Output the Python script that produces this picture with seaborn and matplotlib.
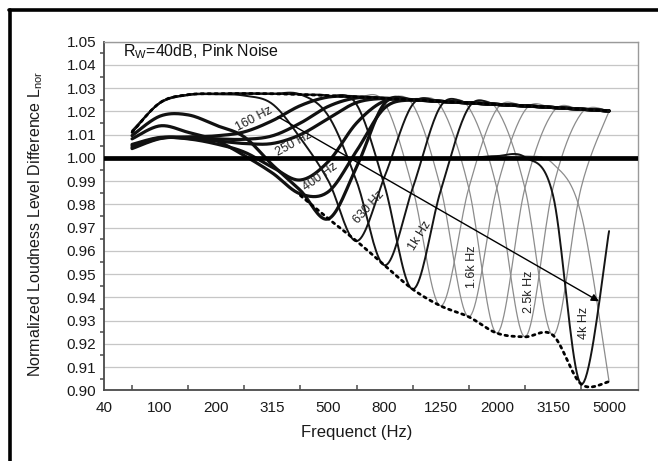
import numpy as np
import matplotlib
matplotlib.use("Agg")
import matplotlib.pyplot as plt
from matplotlib.lines import Line2D
import seaborn as sns

sns.set_theme(style="white")
plt.rcParams['font.family'] = ['Liberation Sans', 'DejaVu Sans']
plt.rcParams['mathtext.fontset'] = 'custom'
plt.rcParams['mathtext.rm'] = 'Liberation Sans'

# ---- axis categories (1/3-octave band positions) ----
tick_labels = ['40', '100', '200', '315', '500', '800', '1250', '2000', '3150', '5000']
band_pos = list(range(1, 19))

# ---- normalized loudness level difference per notch band ----
upper_env = [1.0110, 1.0238, 1.0272, 1.0276, 1.0277, 1.0276, 1.0273, 1.0268, 1.0263,
             1.0256, 1.0250, 1.0243, 1.0237, 1.0230, 1.0224, 1.0217, 1.0210, 1.0202]
lower_env_pos = list(range(7, 19))
lower_env = [0.9838, 0.9738, 0.9642, 0.9538, 0.9435, 0.9363, 0.9316, 0.9246,
             0.9230, 0.9237, 0.9027, 0.9037]

n160 = [1.0040, 1.0083, 1.0090, 1.0095, 1.0112, 1.0160, 1.0225, 1.0262, 1.0263,
        1.0256, 1.0250, 1.0243, 1.0237, 1.0230, 1.0224, 1.0217, 1.0210, 1.0202]
n200 = [1.0045, 1.0085, 1.0087, 1.0082, 1.0080, 1.0095, 1.0150, 1.0222, 1.0258,
        1.0256, 1.0250, 1.0243, 1.0237, 1.0230, 1.0224, 1.0217, 1.0210, 1.0202]
n250 = [1.0052, 1.0086, 1.0084, 1.0073, 1.0062, 1.0062, 1.0100, 1.0170, 1.0238,
        1.0256, 1.0250, 1.0243, 1.0237, 1.0230, 1.0224, 1.0217, 1.0210, 1.0202]
n315 = [1.0058, 1.0088, 1.0082, 1.0060, 1.0025, 0.9960, 0.9905, 0.9985, 1.0150,
        1.0245, 1.0250, 1.0243, 1.0237, 1.0230, 1.0224, 1.0217, 1.0210, 1.0202]
n400 = [1.0082, 1.0138, 1.0110, 1.0075, 1.0010, 0.9935, 0.9845, 0.9855, 1.0030,
        1.0215, 1.0250, 1.0243, 1.0237, 1.0230, 1.0224, 1.0217, 1.0210, 1.0202]
n500 = [1.0096, 1.0180, 1.0185, 1.0140, 1.0090, 0.9970, 0.9860, 0.9738, 0.9960,
        1.0235, 1.0250, 1.0243, 1.0237, 1.0230, 1.0224, 1.0217, 1.0210, 1.0202]
n630 = [1.0117, 1.0236, 1.0270, 1.0274, 1.0268, 1.0232, 1.0085, 0.9900, 0.9642,
        0.9920, 1.0230, 1.0243, 1.0237, 1.0230, 1.0224, 1.0217, 1.0210, 1.0202]
n800 = [1.0110, 1.0238, 1.0272, 1.0276, 1.0277, 1.0276, 1.0273, 1.0180, 0.9900,
        0.9538, 0.9870, 1.0223, 1.0237, 1.0230, 1.0224, 1.0217, 1.0210, 1.0202]
n1000 = [1.0110, 1.0238, 1.0272, 1.0276, 1.0277, 1.0276, 1.0273, 1.0268, 1.0230,
         0.9880, 0.9435, 0.9860, 1.0217, 1.0230, 1.0224, 1.0217, 1.0210, 1.0202]
n1250 = [1.0110, 1.0238, 1.0272, 1.0276, 1.0277, 1.0276, 1.0273, 1.0268, 1.0263,
         1.0236, 0.9870, 0.9363, 0.9870, 1.0210, 1.0224, 1.0217, 1.0210, 1.0202]
n1600 = [1.0110, 1.0238, 1.0272, 1.0276, 1.0277, 1.0276, 1.0273, 1.0268, 1.0263,
         1.0256, 1.0230, 0.9870, 0.9316, 0.9870, 1.0204, 1.0217, 1.0210, 1.0202]
n2000 = [1.0110, 1.0238, 1.0272, 1.0276, 1.0277, 1.0276, 1.0273, 1.0268, 1.0263,
         1.0256, 1.0250, 1.0223, 0.9870, 0.9246, 0.9870, 1.0197, 1.0210, 1.0202]
n2500 = [1.0110, 1.0238, 1.0272, 1.0276, 1.0277, 1.0276, 1.0273, 1.0268, 1.0263,
         1.0256, 1.0250, 1.0243, 1.0217, 0.9870, 0.9230, 0.9870, 1.0190, 1.0202]
n3150 = [1.0110, 1.0238, 1.0272, 1.0276, 1.0277, 1.0276, 1.0273, 1.0268, 1.0263,
         1.0256, 1.0250, 1.0243, 1.0237, 1.0210, 0.9870, 0.9237, 0.9870, 1.0202]
n4000 = [1.0000, 1.0000, 1.0000, 1.0000, 1.0000, 1.0000, 1.0000, 1.0000, 1.0000,
         1.0000, 1.0000, 1.0000, 1.0000, 1.0008, 1.0003, 0.9840, 0.9027, 0.9685]
n5000 = [1.0000, 1.0000, 1.0000, 1.0000, 1.0000, 1.0000, 1.0000, 1.0000, 1.0000,
         1.0000, 1.0000, 1.0000, 1.0000, 1.0000, 1.0008, 0.9975, 0.9760, 0.9037]

# ---- annotation texts ----
band_labels = ['160 Hz', '250 Hz', '400 Hz', '630 Hz', '1k Hz', '1.6k Hz', '2.5k Hz', '4k Hz']
band_label_x = [5.36, 6.75, 7.71, 9.45, 11.25, 13.13, 15.15, 17.12]
band_label_y = [1.0168, 1.0060, 0.9917, 0.9788, 0.9667, 0.9530, 0.9423, 0.9288]
band_label_rot = [28, 29, 36, 48, 58, 90, 90, 90]


def smooth(x, y, n=20):
    """Catmull-Rom spline through the points (smoothed line rendering)."""
    px = np.concatenate([[x[0]], x, [x[-1]]]).astype(float)
    py = np.concatenate([[y[0]], y, [y[-1]]]).astype(float)
    t = np.linspace(0, 1, n, endpoint=False)
    xs, ys = [], []
    for i in range(1, len(px) - 2):
        for p, out in ((px, xs), (py, ys)):
            p0, p1, p2, p3 = p[i - 1], p[i], p[i + 1], p[i + 2]
            out.extend(0.5 * (2 * p1 + (-p0 + p2) * t
                              + (2 * p0 - 5 * p1 + 4 * p2 - p3) * t ** 2
                              + (-p0 + 3 * p1 - 3 * p2 + p3) * t ** 3))
    xs.append(px[-1])
    ys.append(py[-1])
    return np.array(xs), np.array(ys)


W, H = 658, 461
fig = plt.figure(figsize=(W / 100, H / 100), dpi=100)
ax = fig.add_axes([104 / W, 1 - 390.3 / H, 533.7 / W, 348.6 / H])

thin = dict(color='#8c8c8c', lw=0.9)
medium = dict(color='#151515', lw=1.4)
thick = dict(color='#111111', lw=2.3)

series = [
    (n1250, thin), (n1600, thin), (n2000, thin), (n2500, thin), (n3150, thin),
    (n5000, thin),
    (n4000, medium), (n1000, medium), (n800, medium), (n630, medium),
    (n500, thick), (n400, thick), (n315, thick), (n250, thick), (n200, thick),
    (n160, thick),
]
for vals, style in series:
    sx, sy = smooth(band_pos, vals)
    sns.lineplot(x=sx, y=sy, ax=ax, sort=False, estimator=None,
                 solid_capstyle='round', **style)

# envelopes
for px_, py_ in ((band_pos, upper_env), (lower_env_pos, lower_env)):
    sx, sy = smooth(px_, py_)
    sns.lineplot(x=sx, y=sy, ax=ax, sort=False, estimator=None, color='black',
                 lw=2.0, dashes=False, linestyle=(0, (0.9, 1.6)),
                 solid_capstyle='round', dash_capstyle='round')

# reference line at 1.00
ax.axhline(1.0, color='black', lw=3.4, zorder=5)

# arrow across the notch minima
ax.annotate('', xy=(17.64, 0.9383), xytext=(6.2, 1.0177),
            arrowprops=dict(arrowstyle='-|>', color='black', lw=1.0,
                            mutation_scale=11, shrinkA=0, shrinkB=0),
            zorder=6)

for s, x, y, r in zip(band_labels, band_label_x, band_label_y, band_label_rot):
    ax.text(x, y, s, rotation=r, rotation_mode='anchor', ha='center', va='center',
            fontsize=9, color='#222222', zorder=7)

ax.text(0.68, 1.0458, r'R$_\mathregular{W}$=40dB, Pink Noise', fontsize=11.5,
        ha='left', va='center', color='#111111')

# axes
ax.set_xlim(0, 19.02)
ax.set_ylim(0.90, 1.05)
ax.set_xticks(range(0, 19, 2))
ax.set_xticklabels(tick_labels)
ax.set_xticks(range(1, 19, 2), minor=True)
yt = np.round(np.arange(0.90, 1.0501, 0.01), 2)
ax.set_yticks(yt)
ax.set_yticklabels([f'{v:.2f}' for v in yt])
ax.set_yticks(np.round(np.arange(0.905, 1.05, 0.01), 3), minor=True)

ax.yaxis.grid(True, which='major', color='#c6c6c6', lw=0.9)
ax.xaxis.grid(False)
ax.set_axisbelow(True)

for side in ('left', 'bottom'):
    ax.spines[side].set_color('#4a4a4a')
    ax.spines[side].set_linewidth(1.3)
for side in ('top', 'right'):
    ax.spines[side].set_color('#9a9a9a')
    ax.spines[side].set_linewidth(1.0)

ax.tick_params(axis='both', which='major', labelsize=11, labelcolor='#1a1a1a',
               color='#4a4a4a', width=1.2)
ax.tick_params(axis='x', which='major', direction='inout', length=7, pad=4)
ax.tick_params(axis='x', which='minor', direction='in', length=3.5, width=1.1,
               color='#4a4a4a', bottom=True)
ax.tick_params(axis='y', which='major', direction='inout', length=7, pad=2)
ax.tick_params(axis='y', which='minor', direction='out', length=3, width=1.1,
               color='#4a4a4a', left=True)

ax.set_xlabel('Frequenct (Hz)', fontsize=12, color='#1a1a1a')
ax.set_ylabel(r'Normalized Loudness Level Difference L$_\mathregular{nor}$',
              fontsize=11.5, color='#1a1a1a')
ax.xaxis.set_label_coords((357 - 104) / 533.7, (390.3 - 425) / 348.6)
ax.yaxis.set_label_coords(-(104 - 45) / 533.7, 0.478)

# outer frame of the figure (top and left edges)
fig.add_artist(Line2D([10 / W, 10 / W], [0, 1 - 10 / H], transform=fig.transFigure,
                      color='black', lw=2.6))
fig.add_artist(Line2D([10 / W - 0.002, 1], [1 - 10 / H, 1 - 10 / H],
                      transform=fig.transFigure, color='black', lw=2.6))

fig.savefig('out.png', dpi=100)
